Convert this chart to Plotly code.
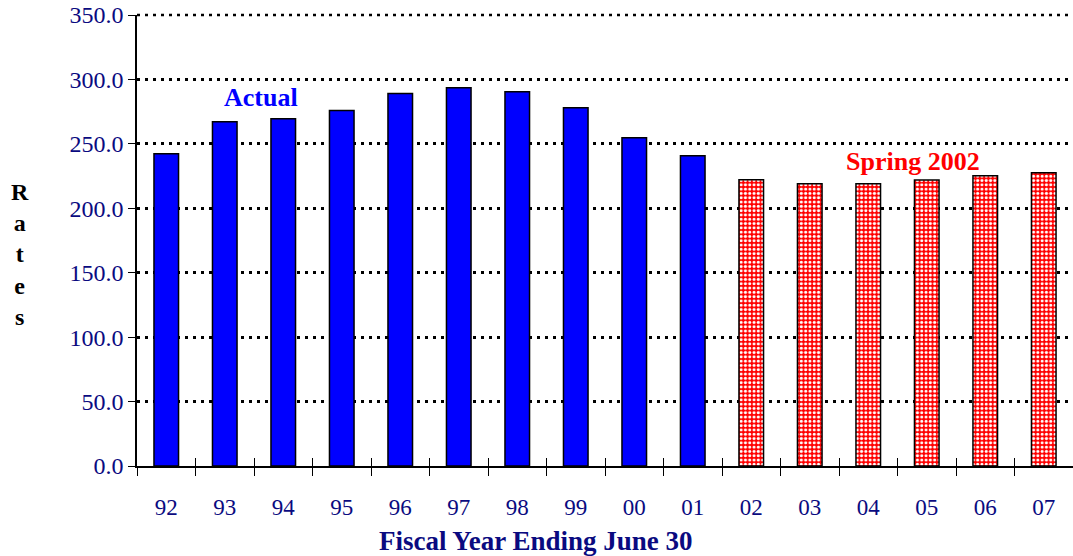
import plotly.graph_objects as go

actual_years = ["92", "93", "94", "95", "96", "97", "98", "99", "00", "01"]
actual_rates = [242.3, 267.2, 269.5, 275.8, 289.0, 293.6, 290.5, 278.0, 254.8, 240.8]
forecast_years = ["02", "03", "04", "05", "06", "07"]
forecast_rates = [222.2, 219.0, 219.0, 222.0, 225.3, 227.6]
all_years = actual_years + forecast_years
y_ticks = [0, 50, 100, 150, 200, 250, 300, 350]

SERIF = "Liberation Serif"
NAVY = "#0a0a80"

fig = go.Figure()
fig.add_trace(go.Bar(
    x=actual_years, y=actual_rates, name="Actual",
    marker=dict(color="#0000ff", line=dict(color="black", width=1.5)),
    width=0.42,
))
fig.add_trace(go.Bar(
    x=forecast_years, y=forecast_rates, name="Spring 2002",
    marker=dict(color="#ff0000", line=dict(color="black", width=1.5),
                pattern=dict(shape=".", fgcolor="white", bgcolor="#ff0000",
                             size=4.3, solidity=0.4, fillmode="replace")),
    width=0.42,
))
# invisible helper trace for the upper half of the x tick marks
fig.add_trace(go.Scatter(x=all_years, y=[0] * len(all_years), xaxis="x2",
                         mode="markers", marker=dict(opacity=0), hoverinfo="skip"))

fig.update_layout(
    width=1073, height=556,
    margin=dict(l=137, r=0, t=15, b=90, autoexpand=False),
    paper_bgcolor="white", plot_bgcolor="white",
    showlegend=False,
    font=dict(family=SERIF, color=NAVY, size=22),
    xaxis=dict(
        type="category", categoryorder="array", categoryarray=all_years,
        range=[-0.5, len(all_years) - 0.5], automargin=False,
        tickson="boundaries", ticks="outside", ticklen=8, tickcolor="black", tickwidth=1,
        showline=True, linecolor="black", linewidth=1.5,
        tickfont=dict(family=SERIF, size=23, color=NAVY),
        ticklabelstandoff=20,
        showgrid=False,
    ),
    xaxis2=dict(
        type="category", categoryorder="array", categoryarray=all_years,
        range=[-0.5, len(all_years) - 0.5], overlaying="x", side="bottom",
        tickson="boundaries", ticks="inside", ticklen=8, tickcolor="black", tickwidth=1,
        showticklabels=False, showgrid=False, showline=False, automargin=False,
    ),
    yaxis=dict(
        range=[0, 350], tickvals=y_ticks, tickformat=".1f", automargin=False,
        ticks="outside", ticklen=7, tickcolor="black", tickwidth=1,
        showline=True, linecolor="black", linewidth=1.5,
        tickfont=dict(family=SERIF, size=24, color=NAVY),
        ticklabeloverflow="allow",
        showgrid=True, gridcolor="black", gridwidth=2.5, griddash="3px,5px",
        zeroline=False,
    ),
)

fig.add_shape(type="line", xref="paper", yref="paper", x0=0, x1=1, y0=1, y1=1,
              line=dict(color="black", width=2.5, dash="3px,5px"), layer="below")

fig.add_annotation(text="<b>Fiscal Year Ending June 30</b>", xref="paper", yref="paper",
                   x=0.426, y=-0.166, showarrow=False, xanchor="center", yanchor="middle",
                   font=dict(family=SERIF, size=27, color=NAVY))
fig.add_annotation(text="<b>R<br>a<br>t<br>e<br>s</b>", xref="paper", yref="paper",
                   x=-0.125, y=0.468, showarrow=False, xanchor="center", yanchor="middle",
                   font=dict(family=SERIF, size=24, color="black"))
fig.add_annotation(text="<b>Actual</b>", x=1.62, y=285.8, xref="x", yref="y",
                   showarrow=False, font=dict(family=SERIF, size=26, color="#0000ff"))
fig.add_annotation(text="<b>Spring 2002</b>", x=12.77, y=236, xref="x", yref="y",
                   showarrow=False, font=dict(family=SERIF, size=26, color="#ff0000"))

fig.write_html("out.html", config={"displayModeBar": False},
               post_script="document.body.style.margin='0';")
